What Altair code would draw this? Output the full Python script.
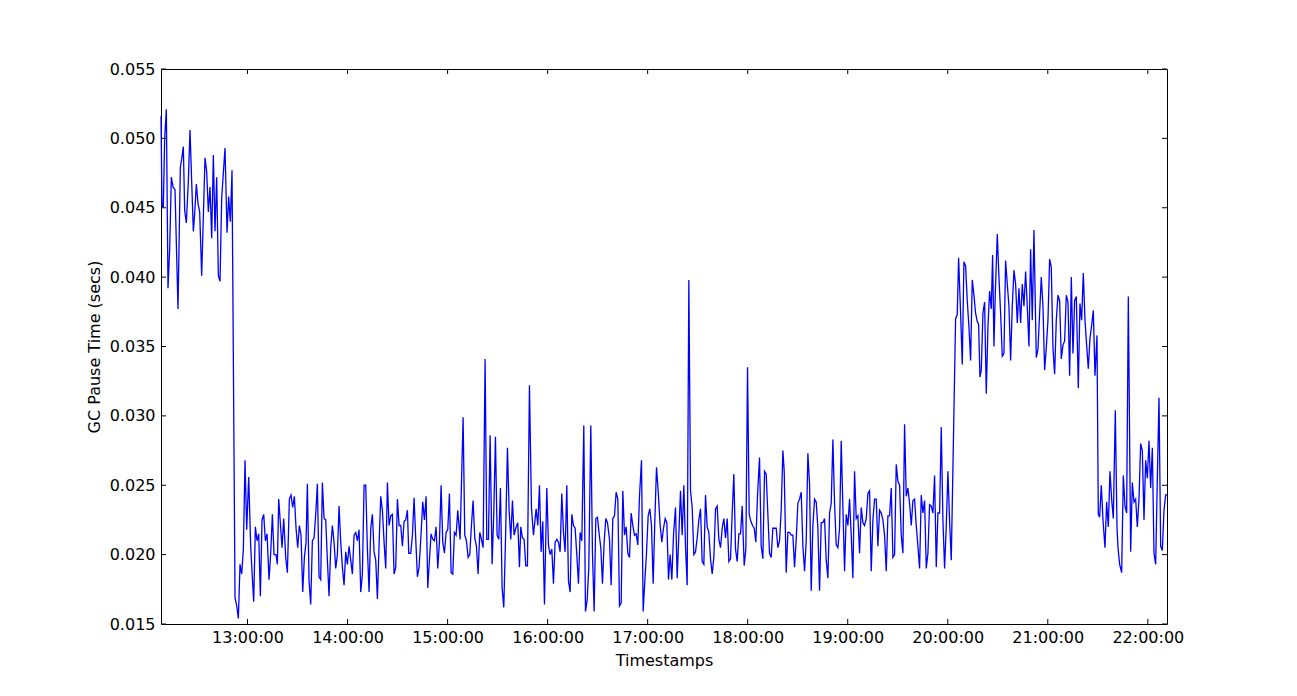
import altair as alt
import pandas as pd

# (minutes after 12:00, GC pause in milliseconds)
seg1 = [(8.1, 51.6), (8.7, 45.1), (9.5, 45.1), (10.3, 50.0), (11.3, 52.1), (12.3, 39.2), (13.3, 42.0),
        (14.3, 47.2), (15.3, 46.5), (16.5, 46.3), (18.3, 37.7), (19.7, 47.9), (20.5, 48.5), (21.5, 49.4),
        (22.3, 44.8), (23.3, 43.9), (24.5, 46.9), (25.5, 50.6), (26.5, 46.9), (27.5, 43.3), (28.3, 44.6),
        (29.3, 46.7), (30.3, 45.3), (31.3, 44.7), (32.5, 40.1), (34.5, 48.6), (35.5, 47.6), (36.5, 44.7),
        (37.5, 46.5), (38.5, 42.8), (39.5, 48.8), (40.5, 43.3), (41.5, 47.2), (42.5, 40.1), (43.5, 39.7),
        (44.5, 45.7), (46.5, 49.3), (47.7, 43.2), (48.7, 45.8), (49.7, 44.0), (50.7, 47.7), (52.5, 16.9),
        (53.5, 16.3), (54.5, 15.4), (55.5, 19.3), (56.5, 18.6), (57.5, 20.4), (58.5, 26.8), (59.5, 21.8),
        (60.7, 25.6), (61.9, 20.6), (62.9, 18.3), (63.7, 16.6), (64.7, 22.0), (65.7, 21.0), (66.7, 21.5),
        (67.7, 17.0), (68.7, 22.5), (69.7, 22.9), (70.7, 21.0), (71.7, 21.5), (72.9, 18.2), (73.9, 20.1),
        (74.9, 22.9), (75.9, 20.0), (77.1, 20.0), (77.9, 19.3), (78.7, 24.0), (80.7, 20.5), (81.7, 22.6)]

seg2 = [(82.9, 19.8), (83.9, 18.7), (85.1, 24.0), (86.1, 24.3), (87.1, 23.4), (88.1, 24.2), (89.1, 21.9),
        (90.1, 20.5), (91.1, 22.1), (92.1, 21.4), (93.1, 17.3), (94.1, 19.8), (95.1, 20.9), (95.9, 25.1),
        (96.9, 18.1), (97.9, 16.4), (98.9, 21.0), (99.9, 21.2), (100.9, 22.9), (101.9, 25.1), (102.9, 18.4),
        (103.9, 18.2), (104.9, 25.2), (105.9, 22.6), (106.9, 22.5), (107.9, 19.6), (108.9, 17.0), (109.9, 20.5),
        (110.9, 22.1), (111.9, 20.9), (112.9, 19.0), (113.9, 20.0), (114.9, 23.5), (115.9, 20.9), (116.9, 19.1),
        (117.9, 17.8), (118.9, 20.2), (119.9, 19.3), (120.9, 20.6), (121.9, 19.6), (122.9, 18.6), (123.9, 21.4),
        (124.9, 21.6), (125.9, 21.0), (126.9, 21.8), (127.9, 17.3), (128.9, 18.6), (129.9, 25.0), (130.9, 25.0),
        (131.9, 20.4), (132.9, 17.3), (133.9, 21.9), (134.9, 22.9), (135.9, 20.2), (136.9, 19.6), (137.9, 16.8),
        (138.9, 20.7), (139.9, 24.2), (140.9, 23.2), (141.9, 20.9), (142.9, 19.0), (143.9, 25.2), (144.9, 22.1),
        (145.9, 22.8), (146.9, 22.9), (147.9, 18.6), (148.9, 19.1), (149.9, 24.0), (150.9, 22.1), (151.9, 22.1),
        (152.9, 20.6), (153.9, 22.4), (154.9, 22.5), (155.9, 23.2), (156.7, 20.1)]

seg3 = [(157.9, 20.1), (158.9, 21.4), (159.9, 24.1), (160.9, 21.1), (161.9, 18.4), (162.9, 19.1), (163.9, 21.1),
        (165.1, 23.8), (166.1, 22.5), (167.1, 24.2), (168.1, 17.6), (169.1, 19.6), (170.1, 21.5), (171.1, 21.1),
        (172.1, 21.0), (173.1, 22.0), (174.1, 19.0), (175.1, 20.9), (176.1, 25.0), (177.1, 20.9), (178.1, 20.1),
        (179.1, 21.6), (180.1, 21.8), (181.1, 24.4), (182.1, 18.7), (183.1, 18.6), (184.1, 21.6), (185.1, 21.4),
        (186.1, 23.2), (187.5, 21.1), (189.3, 29.9), (190.3, 21.4), (191.3, 21.0), (192.3, 19.8), (193.3, 20.0),
        (194.3, 22.1), (195.3, 23.9), (196.3, 21.2), (197.3, 20.6), (198.3, 18.6), (199.3, 21.6), (200.3, 21.1),
        (201.3, 20.5), (202.5, 34.1), (203.5, 21.1), (204.5, 21.1), (205.5, 28.6), (206.7, 19.3), (207.7, 23.0),
        (208.7, 28.5), (209.7, 21.4), (210.7, 21.1), (211.7, 24.8), (212.7, 17.6), (213.7, 16.2), (214.7, 20.9),
        (215.9, 27.7), (216.9, 23.2), (217.9, 21.1), (218.9, 23.9), (219.9, 21.4), (220.9, 21.9), (222.1, 22.3),
        (223.1, 19.1), (223.9, 22.0), (224.9, 21.2), (225.9, 21.1), (226.9, 19.2), (227.9, 19.2), (229.1, 32.2),
        (230.3, 23.4), (231.5, 21.4)]

seg4 = [(233.1, 23.3), (234.1, 22.1), (235.1, 25.0), (236.1, 20.2), (237.1, 22.4), (238.1, 16.4), (239.5, 24.8),
        (240.5, 20.7), (241.5, 20.0), (242.5, 20.4), (243.5, 17.9), (244.5, 20.9), (245.5, 21.1), (246.5, 20.9),
        (247.5, 20.2), (248.5, 24.4), (249.5, 21.6), (250.5, 20.2), (251.5, 25.0), (252.5, 18.1), (253.5, 17.3),
        (254.5, 22.9), (255.5, 22.1), (256.5, 21.9), (257.5, 20.0), (258.5, 17.9), (259.5, 21.6), (260.5, 21.0),
        (261.7, 29.3), (262.7, 15.9), (263.7, 16.7), (264.7, 19.1), (265.9, 29.3), (266.9, 20.1), (267.9, 15.9),
        (268.9, 22.6), (269.9, 22.7), (270.9, 21.5), (271.9, 20.5), (272.9, 17.9), (273.9, 20.9), (274.9, 22.6),
        (275.9, 22.3), (277.1, 21.1), (278.1, 17.8), (279.1, 22.6), (280.1, 22.8), (281.1, 24.5), (282.1, 24.0),
        (283.1, 16.3), (284.1, 16.5), (285.1, 24.6), (286.1, 21.4), (287.1, 22.0), (288.1, 20.1), (289.1, 19.8),
        (290.1, 23.0), (291.1, 22.1), (292.1, 21.4), (293.1, 21.5), (294.1, 20.7), (295.1, 24.2), (296.3, 26.8),
        (297.3, 15.9), (298.3, 18.1), (299.3, 20.1), (300.3, 22.8), (301.3, 23.3), (302.3, 22.1), (303.3, 17.9),
        (304.3, 22.4), (305.3, 26.3), (306.3, 24.6)]

seg5 = [(307.5, 22.1), (308.5, 20.9), (309.5, 21.9), (310.5, 22.6), (311.5, 22.3), (312.5, 18.2), (313.5, 20.0),
        (314.5, 18.2), (315.5, 21.4), (316.7, 23.4), (317.7, 18.3), (318.7, 21.4), (319.7, 24.6), (320.7, 21.4),
        (321.7, 25.0), (322.7, 20.6), (323.7, 17.8), (324.7, 39.8), (325.7, 24.6), (326.7, 23.4), (327.7, 20.0),
        (328.7, 20.2), (329.7, 21.2), (330.7, 22.5), (331.7, 23.3), (332.7, 19.5), (333.7, 19.3), (334.7, 24.3),
        (335.7, 22.0), (336.7, 21.6), (337.7, 19.7), (338.7, 18.6), (339.7, 19.8), (340.7, 23.3), (341.7, 23.5),
        (342.7, 21.1), (343.7, 20.5), (344.7, 21.9), (345.7, 22.6), (346.7, 21.2), (347.7, 22.6), (348.7, 19.5),
        (349.7, 19.7), (350.7, 23.0), (351.7, 25.8), (352.7, 20.4), (353.7, 19.5), (354.7, 21.5), (355.7, 21.5),
        (356.7, 23.5), (357.9, 19.2), (358.9, 20.4), (359.9, 33.5), (360.9, 22.9), (361.9, 22.4), (362.9, 22.1),
        (363.9, 21.9), (364.9, 20.9), (365.9, 24.3), (367.1, 27.0), (368.1, 20.6), (369.1, 19.7), (370.1, 26.0),
        (371.1, 25.8), (372.1, 22.9), (373.1, 20.1), (374.1, 19.8), (375.1, 21.9), (376.1, 21.9), (377.1, 21.9),
        (378.1, 20.5), (379.1, 21.0), (380.1, 23.2), (381.1, 27.5), (381.9, 26.0)]

seg6 = [(383.1, 18.7), (384.1, 21.6), (385.1, 21.6), (386.1, 21.4), (387.1, 21.4), (388.1, 19.1), (389.1, 21.1),
        (390.1, 23.7), (391.1, 24.0), (392.1, 24.5), (393.1, 20.6), (394.1, 18.8), (395.1, 21.0), (396.1, 27.3),
        (397.1, 25.1), (398.1, 17.4), (399.1, 22.1), (400.1, 24.0), (401.1, 23.8), (402.1, 21.9), (403.1, 17.4),
        (404.1, 22.3), (405.1, 22.3), (406.1, 22.6), (407.1, 19.6), (408.1, 18.3), (409.1, 23.0), (410.1, 23.7),
        (411.1, 28.3), (412.1, 23.7), (413.1, 20.7), (414.1, 20.5), (415.1, 21.9), (416.1, 28.2), (417.1, 23.4),
        (418.1, 18.8), (419.1, 22.9), (420.1, 22.1), (421.1, 24.0), (422.1, 21.4), (423.1, 18.3), (424.1, 26.0),
        (425.1, 22.6), (426.1, 22.8), (427.1, 20.1), (428.1, 23.4), (429.1, 22.3), (430.1, 22.1), (431.1, 22.6),
        (432.1, 24.4), (433.1, 24.6), (434.1, 18.8), (435.1, 22.5), (436.1, 24.0), (437.1, 24.0), (438.1, 20.6),
        (439.1, 23.2), (440.1, 23.0), (441.1, 22.5), (442.1, 21.4), (443.1, 18.8), (444.1, 22.8), (445.1, 22.8),
        (446.1, 24.8), (447.1, 19.8), (448.1, 20.0), (449.1, 26.5), (450.1, 25.3), (451.1, 25.0), (452.1, 21.4),
        (453.1, 20.1), (454.1, 29.4), (455.1, 24.2), (456.1, 24.8)]

seg7 = [(457.1, 23.7), (458.1, 22.1), (459.1, 23.9), (460.1, 24.0), (461.1, 22.1), (462.1, 20.6), (463.1, 19.0),
        (464.1, 24.3), (465.1, 23.0), (466.1, 23.9), (467.1, 19.0), (468.1, 20.1), (469.1, 23.6), (470.1, 23.5),
        (471.1, 23.0), (472.1, 25.7), (473.1, 19.1), (474.1, 23.0), (475.1, 23.0), (476.1, 29.2), (477.1, 22.5),
        (478.1, 19.0), (479.1, 22.1), (480.1, 26.0), (481.1, 22.4), (482.1, 19.6), (484.7, 37.0), (485.7, 37.3),
        (486.5, 41.4), (487.7, 37.4), (488.7, 33.7), (489.7, 41.1), (490.7, 40.8), (491.7, 38.3), (492.7, 36.4),
        (493.7, 34.0), (494.7, 39.8), (495.7, 38.7), (496.7, 37.4), (497.7, 36.8), (498.5, 36.6), (499.3, 32.8),
        (500.1, 33.3), (501.1, 37.4), (502.1, 38.2), (503.1, 31.6), (504.1, 36.4), (505.1, 39.0), (506.1, 37.7),
        (506.9, 41.6), (507.7, 35.0), (508.5, 38.8), (509.7, 43.1), (510.7, 40.0), (511.7, 37.4), (512.7, 34.3),
        (513.7, 34.5), (514.7, 41.2), (515.7, 39.5), (516.7, 37.9), (517.7, 34.0), (518.7, 37.9), (519.7, 40.5),
        (520.7, 39.5), (521.7, 36.7), (522.7, 39.2), (523.7, 36.7), (524.7, 39.5), (525.7, 37.9), (526.7, 40.4),
        (527.7, 37.9), (528.7, 35.0), (529.7, 42.0), (530.7, 36.9), (531.7, 43.4)]

seg8 = [(533.1, 34.2), (534.1, 34.8), (535.1, 37.4), (536.1, 40.0), (537.1, 37.9), (538.1, 33.3), (539.1, 34.9),
        (540.1, 36.9), (541.1, 41.3), (542.1, 40.7), (543.1, 34.9), (544.1, 33.0), (545.1, 36.9), (546.1, 38.7),
        (547.1, 38.3), (548.1, 34.1), (549.1, 35.1), (550.1, 35.4), (551.1, 38.7), (552.1, 38.2), (553.1, 32.9),
        (554.1, 40.0), (555.1, 34.5), (556.1, 38.3), (557.1, 38.6), (558.3, 32.0), (559.3, 38.1), (560.3, 36.9),
        (561.3, 40.3), (562.3, 36.9), (563.3, 35.1), (564.3, 33.4), (565.3, 35.6), (566.3, 36.5), (567.3, 37.6),
        (568.3, 32.9), (569.5, 35.8), (570.3, 22.9), (571.1, 22.7), (572.1, 25.0), (573.1, 22.5), (574.3, 20.5),
        (575.3, 23.8), (576.3, 22.0), (577.3, 26.0), (578.3, 24.0), (579.3, 22.6), (580.5, 30.4), (581.5, 22.0),
        (582.1, 20.5), (583.1, 19.3), (584.3, 18.7), (585.3, 25.7), (586.3, 23.5), (587.3, 23.0), (588.3, 38.6),
        (589.7, 20.2), (590.7, 25.2), (591.7, 23.8), (592.7, 24.0), (593.7, 22.0), (594.7, 24.0), (595.7, 28.0),
        (596.7, 27.5), (597.7, 22.5), (598.7, 26.8), (599.7, 25.5), (600.7, 28.2), (601.7, 24.8), (602.7, 27.7),
        (603.7, 20.1), (604.7, 19.3), (605.7, 25.5), (606.7, 31.3), (607.7, 20.6), (608.7, 20.3), (609.7, 23.2),
        (610.7, 24.3), (611.5, 24.3)]

x_tick_hours = [13, 14, 15, 16, 17, 18, 19, 20, 21, 22]
y_tick_values = [0.015, 0.020, 0.025, 0.030, 0.035, 0.040, 0.045, 0.050, 0.055]

DAY = pd.Timestamp("2013-06-01 00:00:00")
rows = [p for s in (seg1, seg2, seg3, seg4, seg5, seg6, seg7, seg8) for p in s]
df = pd.DataFrame({
    "time": [DAY + pd.Timedelta(hours=12) + pd.Timedelta(minutes=m) for m, _ in rows],
    "pause": [v / 1000.0 for _, v in rows],
})
xt = pd.DataFrame({"time": [DAY + pd.Timedelta(hours=h) for h in x_tick_hours]})
yt = pd.DataFrame({"pause": y_tick_values})

W, H = 1006, 555
FONT = "DejaVu Sans"
TL = 5

xscale = alt.Scale(nice=False)
yscale = alt.Scale(domain=[0.015, 0.055], nice=False)

xaxis = alt.Axis(values=[alt.DateTime(year=2013, month=6, date=1, hours=h) for h in x_tick_hours],
                 format="%H:%M:%S", ticks=False, domain=False, grid=False,
                 labelFont=FONT, labelFontSize=16, labelColor="black", labelPadding=5,
                 title="Timestamps", titleFont=FONT, titleFontSize=16, titleFontWeight="normal",
                 titleColor="black", titlePadding=7)
yaxis = alt.Axis(values=y_tick_values, format=".3f", ticks=False, domain=False, grid=False,
                 labelFont=FONT, labelFontSize=16, labelColor="black", labelPadding=6,
                 title="GC Pause Time (secs)", titleFont=FONT, titleFontSize=16,
                 titleFontWeight="normal", titleColor="black", titlePadding=7)

xenc = alt.X("time:T", scale=xscale, axis=xaxis)
yenc = alt.Y("pause:Q", scale=yscale, axis=yaxis)

line = alt.Chart(df).mark_line(color="#0000ff", strokeWidth=1.3).encode(x=xenc, y=yenc)

ytl = alt.Chart(yt).mark_rule(color="black", strokeWidth=1).encode(
    y=yenc, x=alt.value(0), x2=alt.value(TL))
ytr = alt.Chart(yt).mark_rule(color="black", strokeWidth=1).encode(
    y=yenc, x=alt.value(W - TL), x2=alt.value(W))
xtb = alt.Chart(xt).mark_rule(color="black", strokeWidth=1).encode(
    x=xenc, y=alt.value(H - TL), y2=alt.value(H))
xtt = alt.Chart(xt).mark_rule(color="black", strokeWidth=1).encode(
    x=xenc, y=alt.value(0), y2=alt.value(TL))

chart = alt.layer(line, ytl, ytr, xtb, xtt).properties(
    width=W, height=H,
    autosize=alt.AutoSizeParams(type="none"),
    padding={"left": 153, "top": 61, "right": 20, "bottom": 50},
    background="white",
).configure_view(stroke="black", strokeWidth=1)

chart.save("out.html", embed_options={"renderer": "svg", "actions": False})
